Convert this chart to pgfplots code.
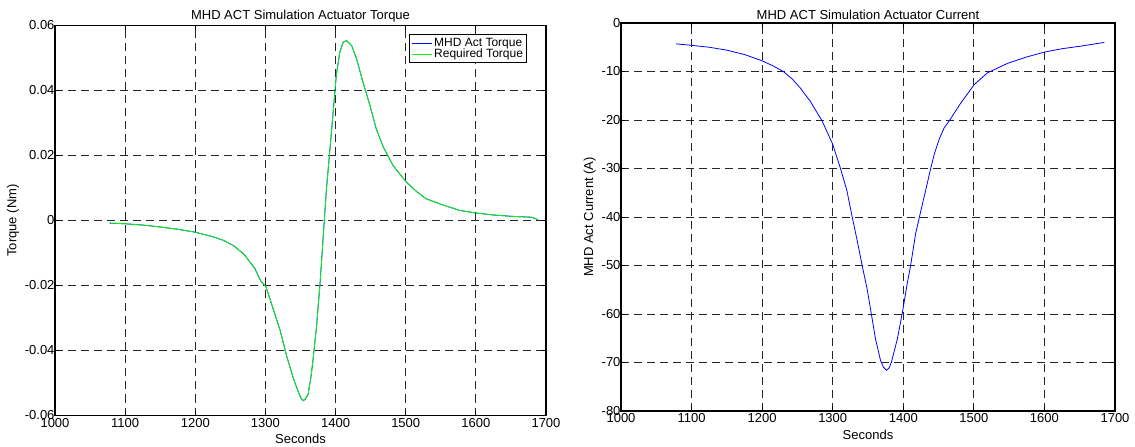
\documentclass[border=0pt]{standalone}
\usepackage{fontspec}
\setmainfont{Liberation Sans}
\usepackage{pgfplots}
\pgfplotsset{compat=1.18}
\definecolor{mblue}{RGB}{0,0,255}
\definecolor{mgreen}{RGB}{0,255,0}
\newcommand{\mfont}{\fontsize{13}{15}\selectfont}
\pgfplotsset{
  mstyle/.style={
    scale only axis,
    anchor=south west,
    font=\mfont,
    ticklabel style={font=\mfont},
    label style={font=\mfont},
    title style={font=\mfont, yshift=-6pt},
    axis line style={black, line width=1.2pt},
    tick style={black, line width=0.8pt},
    tick align=inside,
    major tick length=5pt,
    xtick pos=both, ytick pos=both,
    grid=major,
    major grid style={black!85, line width=0.8pt, dash pattern=on 8pt off 5pt},
    xmin=1000, xmax=1700,
    xtick={1000,1100,...,1700},
    xticklabels={1000,1100,1200,1300,1400,1500,1600,1700},
    /pgf/number format/assume math mode=true,
    yticklabel style={anchor=east, xshift=3pt},
    xticklabel style={yshift=1pt},
    xlabel={Seconds},
    xlabel style={yshift=0pt},
  }
}
\begin{document}
\begin{tikzpicture}
\useasboundingbox (0,0) rectangle (1135pt,447pt);
\begin{axis}[mstyle,
  at={(55pt,31.5pt)}, width=491pt, height=390pt,
  ymin=-0.06, ymax=0.06,
  ytick={-0.06,-0.04,-0.02,0,0.02,0.04,0.06},
  yticklabels={-0.06,-0.04,-0.02,0,0.02,0.04,0.06},
  scaled y ticks=false,
  ylabel={Torque (Nm)},
  ylabel style={yshift=-1pt},
  title={MHD ACT Simulation Actuator Torque},
  legend style={at={(0.961,0.977)}, anchor=north east, draw=black, line width=0.8pt,
    font=\fontsize{12}{12}\selectfont, inner sep=1.5pt, row sep=-3pt,
    cells={anchor=west}},
  legend cell align=left,
  legend image code/.code={\draw[#1, line width=0.9pt] (0pt,0pt) -- (20pt,0pt);},
]
\addplot[mblue, line width=0.8pt] coordinates {
(1078,-0.0008) (1100,-0.001) (1125,-0.0014) (1150,-0.002) (1175,-0.0027) (1200,-0.0036)
(1225,-0.0050) (1240,-0.0061) (1255,-0.0078) (1270,-0.0105) (1285,-0.0148) (1293,-0.0185)
(1301,-0.0205) (1311,-0.0272) (1321,-0.0338) (1330,-0.0415) (1340,-0.0487) (1347,-0.0528)
(1351,-0.0548) (1354,-0.0554) (1357,-0.0550) (1361,-0.0533) (1365,-0.0480) (1368,-0.0426)
(1373,-0.0323) (1378,-0.0190) (1382.5,-0.0046) (1387,0.0097) (1392,0.0220) (1397,0.0344)
(1401,0.0446) (1406,0.0518) (1411,0.0549) (1416,0.0553) (1423,0.0538) (1430,0.0497)
(1439,0.0426) (1449,0.0354) (1458,0.0282) (1468,0.0226) (1482,0.0169) (1501,0.0118)
(1515,0.0090) (1529,0.0067) (1550,0.0050) (1577,0.0031) (1600,0.0023) (1625,0.0017)
(1650,0.0013) (1680,0.0010) (1688,0.0003)
};
\addlegendentry{MHD Act Torque}
\addplot[mgreen, line width=0.8pt] coordinates {
(1078,-0.0008) (1100,-0.001) (1125,-0.0014) (1150,-0.002) (1175,-0.0027) (1200,-0.0036)
(1225,-0.0050) (1240,-0.0061) (1255,-0.0078) (1270,-0.0105) (1285,-0.0148) (1293,-0.0185)
(1301,-0.0205) (1311,-0.0272) (1321,-0.0338) (1330,-0.0415) (1340,-0.0487) (1347,-0.0528)
(1351,-0.0548) (1354,-0.0554) (1357,-0.0550) (1361,-0.0533) (1365,-0.0480) (1368,-0.0426)
(1373,-0.0323) (1378,-0.0190) (1382.5,-0.0046) (1387,0.0097) (1392,0.0220) (1397,0.0344)
(1401,0.0446) (1406,0.0518) (1411,0.0549) (1416,0.0553) (1423,0.0538) (1430,0.0497)
(1439,0.0426) (1449,0.0354) (1458,0.0282) (1468,0.0226) (1482,0.0169) (1501,0.0118)
(1515,0.0090) (1529,0.0067) (1550,0.0050) (1577,0.0031) (1600,0.0023) (1625,0.0017)
(1650,0.0013) (1680,0.0010) (1688,0.0003)
};
\addlegendentry{Required Torque}
\end{axis}
\begin{axis}[mstyle,
  at={(621pt,36pt)}, width=494pt, height=388pt,
  ymin=-80, ymax=0,
  ytick={-80,-70,...,0},
  yticklabels={-80,-70,-60,-50,-40,-30,-20,-10,0},
  ylabel={MHD Act Current (A)},
  ylabel style={yshift=-1pt},
  title={MHD ACT Simulation Actuator Current},
]
\addplot[mblue, line width=0.8pt] coordinates {
(1078,-4.3) (1100,-4.6) (1125,-5.0) (1150,-5.6) (1175,-6.5) (1200,-7.8) (1215,-8.8)
(1230,-10.0) (1243,-11.6) (1254,-13.4) (1268,-16.1) (1285,-20.2) (1300,-25.0) (1311,-30.0)
(1320,-34.5) (1327.5,-39.9) (1334.6,-44.8) (1341.7,-50.0) (1349,-55.0) (1354.5,-59.8)
(1360.7,-65.2) (1367.8,-69.6) (1372,-71.0) (1376.3,-71.6) (1380,-71.1) (1383,-70.0)
(1391.5,-65.2) (1398.6,-59.8) (1405.7,-53.6) (1410.4,-50.0) (1417.5,-43.4) (1423,-39.9)
(1431.7,-34.5) (1438.8,-30.0) (1444,-27.0) (1451,-23.9) (1458,-21.6) (1465,-20.2)
(1481.5,-16.5) (1500.5,-12.7) (1519,-10.3) (1548,-8.3) (1575,-7.0) (1600,-6.0) (1625,-5.3)
(1650,-4.8) (1685,-4.0)
};
\end{axis}
\end{tikzpicture}
\end{document}
